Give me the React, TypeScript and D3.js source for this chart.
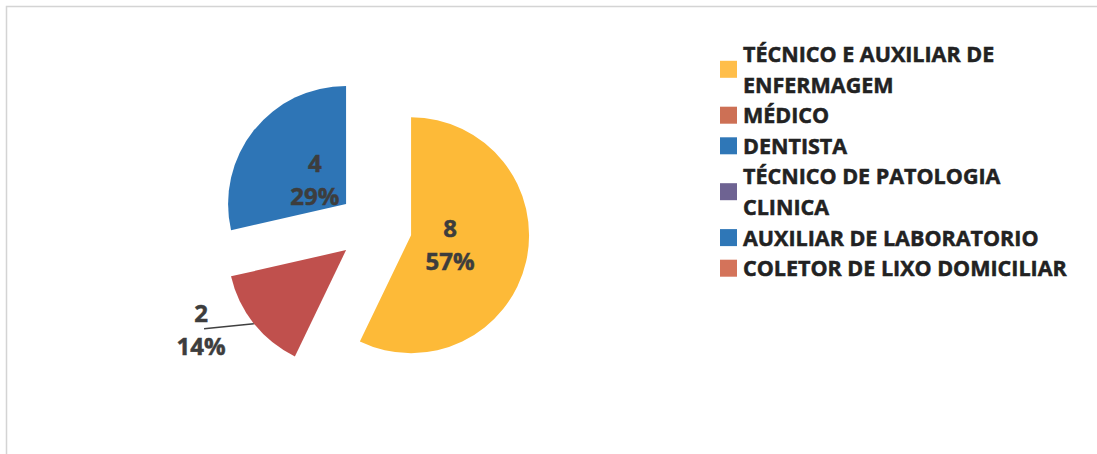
import React from "react";
import * as d3 from "d3";

const categories = [
  ["TÉCNICO E AUXILIAR DE", "ENFERMAGEM"],
  ["MÉDICO"],
  ["DENTISTA"],
  ["TÉCNICO DE PATOLOGIA", "CLINICA"],
  ["AUXILIAR DE LABORATORIO"],
  ["COLETOR DE LIXO DOMICILIAR"],
];
const values = [8, 2, 4, 0, 0, 0];
const percentLabels = ["57%", "14%", "29%", "0%", "0%", "0%"];
const sliceColors = ["#FDBA38", "#C0504D", "#2E75B6", "#6E6392", "#2E75B6", "#D4735A"];
const legendColors = ["#FFBE4A", "#CD7055", "#2F77B7", "#6E6392", "#2F77B7", "#D4735A"];

const W = 1097;
const H = 454;
const cx = 375;
const cy = 227;
const R = 118;
const EXPLODE = 37;

export default function App() {
  const pie = d3
    .pie<number>()
    .sort(null)
    .value((d) => d)
    .startAngle(0)
    .endAngle(2 * Math.PI);
  const arcs = pie(values);
  const arc = d3.arc<d3.PieArcDatum<number>>().innerRadius(0).outerRadius(R);

  const fontFamily = "'Open Sans', 'DejaVu Sans', sans-serif";
  const labelColor = "#3d3d3d";

  const legendX = 720;
  const legendSq = 17;
  const lineH = 30.6;
  let rowY = 62;
  const legendRows: { i: number; lines: string[]; baselines: number[] }[] = [];
  categories.forEach((lines, i) => {
    const baselines = lines.map((_, k) => rowY + k * lineH);
    legendRows.push({ i, lines, baselines });
    rowY += lines.length * lineH;
  });

  return (
    <svg
      width={W}
      height={H}
      style={{ position: "absolute", left: 0, top: 0, background: "#fff" }}
    >
      <rect x={0} y={0} width={W} height={H} fill="#fff" />
      <path d={`M6.5,${H + 2} V6.5 H${W + 2}`} fill="none" stroke="#d4d4d4" strokeWidth={1.5} />
      <g transform={`translate(${cx},${cy})`}>
        {arcs.map((a, i) => {
          if (a.value === 0) return null;
          const mid = (a.startAngle + a.endAngle) / 2;
          const dx = Math.sin(mid) * EXPLODE;
          const dy = -Math.cos(mid) * EXPLODE;
          return (
            <g key={i} transform={`translate(${dx},${dy})`}>
              <path d={arc(a) || ""} fill={sliceColors[i]} />
            </g>
          );
        })}
        {arcs.map((a, i) => {
          if (a.value === 0) return null;
          const mid = (a.startAngle + a.endAngle) / 2;
          const dx = Math.sin(mid) * EXPLODE;
          const dy = -Math.cos(mid) * EXPLODE;
          const outside = a.endAngle - a.startAngle < 1.0;
          const textProps = {
            fontFamily,
            fontWeight: 700,
            fontSize: 24,
            fill: labelColor,
            stroke: labelColor,
            strokeWidth: 0.5,
            textAnchor: "middle" as const,
          };
          if (!outside) {
            const t = 40;
            const lx = dx + Math.sin(mid) * t;
            const ly = dy - Math.cos(mid) * t;
            return (
              <g key={"l" + i} {...textProps}>
                <text x={lx} y={ly - 7}>{values[i]}</text>
                <text x={lx} y={ly + 26}>{percentLabels[i]}</text>
              </g>
            );
          }
          const la = mid + (8 * Math.PI) / 180;
          const lr = 202;
          const lx = Math.sin(la) * lr;
          const ly = -Math.cos(la) * lr;
          const ex = dx + Math.sin(mid) * R;
          const ey = dy - Math.cos(mid) * R;
          return (
            <g key={"l" + i}>
              <line x1={lx + 3} y1={ly - 1} x2={ex} y2={ey} stroke="#404040" strokeWidth={1.5} />
              <g {...textProps}>
                <text x={lx} y={ly - 8}>{values[i]}</text>
                <text x={lx} y={ly + 25}>{percentLabels[i]}</text>
              </g>
            </g>
          );
        })}
      </g>
      <g fontFamily={fontFamily} fontWeight={700} fontSize={21.5} fill="#222" stroke="#222" strokeWidth={0.5}>
        {legendRows.map((row) => {
          const first = row.baselines[0];
          const last = row.baselines[row.baselines.length - 1];
          const sqCenter = (first + last) / 2 - 8;
          return (
            <g key={row.i}>
              <rect
                x={legendX}
                y={sqCenter - legendSq / 2}
                width={legendSq}
                height={legendSq}
                fill={legendColors[row.i]}
                stroke="none"
              />
              {row.lines.map((ln, k) => (
                <text key={k} x={743} y={row.baselines[k]}>
                  {ln}
                </text>
              ))}
            </g>
          );
        })}
      </g>
    </svg>
  );
}
